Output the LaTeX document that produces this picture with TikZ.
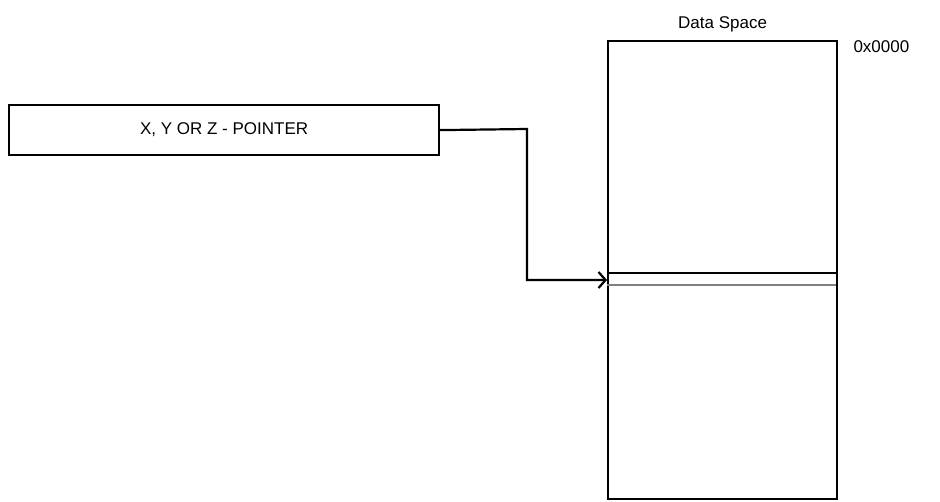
\documentclass[tikz,border=0pt]{standalone}
\usepackage{fontspec}
\setmainfont{Liberation Sans}
\usetikzlibrary{arrows.meta}
\begin{document}
\begin{tikzpicture}[x=1pt,y=-1pt,
  box/.style={draw,line width=2.2pt,inner sep=0},
  lbl/.style={font=\fontsize{17}{20}\selectfont}]
\useasboundingbox (0,0) rectangle (940,501);
\node[box,minimum width=430,minimum height=50,anchor=north west,lbl] (ptr) at (8,104) {X, Y OR Z - POINTER};
\node[box,minimum width=229,minimum height=458,anchor=north west] (mem) at (607,40) {};
\draw[line width=2pt] (607,273) -- (836,273);
\draw[line width=1.2pt,gray] (607,285) -- (836,285);
\coordinate (tgt) at (607,280);
\node[lbl,anchor=south] (ds) at (mem.north) [yshift=4] {Data Space};
\node[lbl,anchor=west] (addr) at (850,47) {0x0000};
\draw[line width=2.2pt,-{Straight Barb[length=7pt,width=16pt,line width=2.2pt]}] (ptr.east) -- (527,129) -- (527,280) -- (tgt);
\end{tikzpicture}
\end{document}
